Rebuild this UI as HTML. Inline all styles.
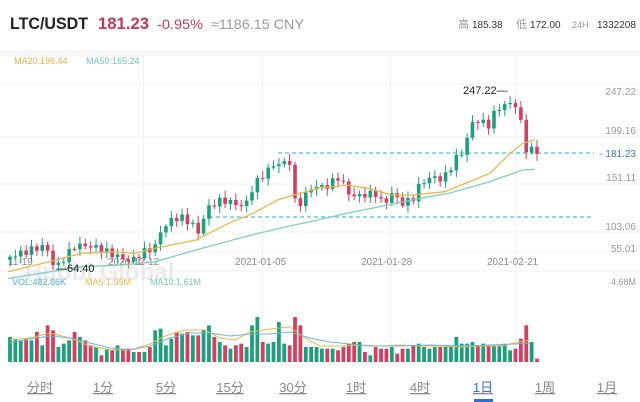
<!DOCTYPE html>
<html><head><meta charset="utf-8">
<style>
body{margin:0;width:640px;height:402px;overflow:hidden;background:#fff;font-family:"Liberation Sans","Noto Sans CJK SC",sans-serif;}
svg{position:absolute;left:0;top:0}
</style></head><body>
<svg id="s" width="640" height="402" viewBox="0 0 640 402" xmlns="http://www.w3.org/2000/svg" font-family="Liberation Sans, Noto Sans CJK SC, sans-serif">
<text x="10" y="29" font-size="17" font-weight="bold" fill="#222" textLength="78" lengthAdjust="spacingAndGlyphs">LTC/USDT</text>
<text x="98" y="29" font-size="17" font-weight="bold" fill="#c8365a" textLength="51" lengthAdjust="spacingAndGlyphs">181.23</text>
<text x="157" y="29" font-size="14" fill="#c8365a" textLength="46" lengthAdjust="spacingAndGlyphs">-0.95%</text>
<text x="211" y="29" font-size="14" fill="#9a9a9a" textLength="93" lengthAdjust="spacingAndGlyphs">≈1186.15 CNY</text>
<text x="458" y="28" font-size="11" fill="#999">高</text>
<text x="472" y="28" font-size="10" fill="#333">185.38</text>
<text x="516" y="28" font-size="11" fill="#999">低</text>
<text x="530" y="28" font-size="10" fill="#333">172.00</text>
<text x="572" y="28" font-size="9" fill="#999">24H</text>
<text x="597" y="28" font-size="10" fill="#333">1332208</text>
<rect x="0" y="50" width="640" height="6" fill="#f6f6f6"/>
<text x="14" y="64" font-size="9" fill="#e0b040">MA20:196.44</text>
<text x="86" y="64" font-size="9" fill="#6fc7b5">MA50:165.24</text>
<g stroke="#f0f0f0" stroke-width="1">
<line x1="0" y1="84" x2="640" y2="84"/><line x1="0" y1="137" x2="640" y2="137"/>
<line x1="0" y1="184" x2="640" y2="184"/><line x1="0" y1="232" x2="640" y2="232"/>
<line x1="0" y1="252" x2="640" y2="252"/><line x1="0" y1="271" x2="640" y2="271"/>
<rect x="143" y="56" width="1" height="310" fill="#f0f0f0" stroke="none"/><rect x="262" y="56" width="1" height="310" fill="#f0f0f0" stroke="none"/>
<rect x="390" y="56" width="1" height="310" fill="#f0f0f0" stroke="none"/><rect x="515" y="56" width="1" height="310" fill="#f0f0f0" stroke="none"/>
</g>
<text x="25" y="280" font-size="24" fill="#eaeaea" font-weight="bold">Huobi Global</text>
<g font-size="10" fill="#999" text-anchor="end">
<text x="636" y="95">247.22</text><text x="636" y="134">199.16</text>
<text x="636" y="181">151.11</text><text x="636" y="230">103.06</text><text x="636" y="252">55.01</text>
</g>
<g font-size="10" fill="#888">
<text x="8" y="265">11-19</text><text x="108" y="265">2020-12-12</text>
<text x="235" y="265">2021-01-05</text><text x="361" y="265">2021-01-28</text><text x="487" y="265">2021-02-21</text>
</g>
<g stroke="#4cc0dd" stroke-width="1.3" stroke-dasharray="4,3">
<line x1="278" y1="153" x2="594" y2="153"/><line x1="209" y1="217" x2="594" y2="217"/>
</g>
<text x="636" y="157" font-size="10" fill="#3a78c8" text-anchor="end">- 181.23</text>
<g id="c"></g>
<text x="463" y="94" font-size="11" fill="#222">247.22—</text>
<text x="56" y="272" font-size="11" fill="#222">—64.40</text>
<text x="12" y="285" font-size="9" fill="#4ea6d8">VOL:482.86K</text>
<text x="85" y="285" font-size="9" fill="#e8b84a">MA5:1.95M</text>
<text x="150" y="285" font-size="9" fill="#6fc7b5">MA10:1.61M</text>
<text x="636" y="285" font-size="9" fill="#999" text-anchor="end">4.68M</text>
<g font-size="13" fill="#888" text-anchor="middle" text-decoration="underline">
<text x="40" y="392">分时</text><text x="103" y="392">1分</text><text x="166" y="392">5分</text>
<text x="230" y="392">15分</text><text x="293" y="392">30分</text><text x="356" y="392">1时</text>
<text x="420" y="392">4时</text><text x="483" y="392" fill="#2f6fd0">1日</text>
<text x="545" y="392">1周</text><text x="607" y="392">1月</text>
</g>
<rect x="474" y="399" width="19" height="3" fill="#2f6fd0"/>
</svg>
<script>
(function(){
var NS="http://www.w3.org/2000/svg",g=document.getElementById('c');
function el(t,a){var e=document.createElementNS(NS,t);for(var k in a)e.setAttribute(k,String(a[k]));g.appendChild(e);return e;}
var wp=[[25,530],[100,500],[115,500],[122,545],[140,560],[185,495],[230,500],[260,515],[290,530],[320,545],[345,520],[380,500],[395,450],[420,420],[440,410],[470,430],[485,460],[500,410],[515,375],[545,360],[600,380],[620,320],[640,290],[670,255],[690,250],[712,245],[725,390],[740,360],[765,320],[800,320],[830,290],[845,320],[860,350],[890,345],[920,340],[940,375],[960,340],[985,370],[1010,360],[1030,310],[1060,290],[1085,300],[1100,270],[1120,230],[1135,215],[1155,130],[1175,120],[1195,140],[1215,90],[1235,75],[1255,70],[1270,80],[1280,160],[1290,210],[1305,210],[1315,215]].map(function(p){return [p[0]/2.45,p[1]/3+80];});
function interp(x){for(var i=0;i<wp.length-1;i++){if(x<=wp[i+1][0]){var a=wp[i],b=wp[i+1],t=(x-a[0])/(b[0]-a[0]);return a[1]+(b[1]-a[1])*Math.max(0,Math.min(1,t));}}return wp[wp.length-1][1];}
var vol=[75,70,65,70,65,90,50,110,95,45,55,65,90,75,65,50,45,20,40,35,50,40,40,30,30,30,45,95,100,50,70,90,85,90,80,80,95,110,75,60,50,40,50,55,45,110,135,60,55,60,120,55,50,135,110,45,45,45,40,40,40,35,45,55,60,60,30,20,45,40,40,45,25,40,40,50,55,45,40,45,45,45,50,75,55,55,60,50,55,50,50,50,55,35,40,70,110,60,10];
var n=vol.length,xs=10,xe=537,dx=(xe-xs)/(n-1),prev=interp(xs)+3;
for(var i=0;i<n;i++){var x=xs+i*dx,c=interp(x)+Math.sin(i*2.7)*3.5,o=prev;
 var col=(c<o)?"#1f9e7c":"#d0405f";
 var tp=Math.min(o,c)-2-Math.abs(Math.sin(i*1.3))*5,bt=Math.max(o,c)+2+Math.abs(Math.cos(i*1.7))*5;
 el('rect',{x:(x-0.5).toFixed(2),y:tp.toFixed(2),width:1,height:(bt-tp).toFixed(2),fill:col});
 el('rect',{x:(x-1.8).toFixed(2),y:Math.min(o,c).toFixed(2),width:3.6,height:Math.max(1,Math.abs(c-o)).toFixed(2),fill:col});
 var h=vol[i]/3;el('rect',{x:(x-1.9).toFixed(2),y:(362-h).toFixed(2),width:3.8,height:h.toFixed(2),fill:col});
 prev=c;}
function pl(pts,col,w){el('polyline',{points:pts.map(function(p){return (p[0]/2.45).toFixed(1)+','+(p[1]/3+80).toFixed(1);}).join(' '),fill:'none',stroke:col,'stroke-width':w});}
pl([[20,575],[120,545],[200,520],[280,515],[330,520],[380,505],[480,480],[560,430],[620,400],[680,360],[720,345],[780,325],[850,315],[900,325],[960,345],[1010,345],[1090,335],[1140,310],[1200,280],[1250,220],[1280,190],[1310,180]],'#e8b84a',1.3);
pl([[20,595],[100,580],[200,560],[300,555],[380,545],[480,510],[600,470],[700,440],[760,425],[850,400],[950,375],[1050,350],[1100,340],[1200,305],[1280,270],[1310,268]],'#7fcfbf',1.3);
function vl(pts,col){el('polyline',{points:pts.map(function(p){return p[0]+','+p[1];}).join(' '),fill:'none',stroke:col,'stroke-width':1});}
vl([[10,340],[30,338],[50,333],[70,338],[90,346],[110,350],[130,350],[150,344],[165,336],[185,330],[205,330],[220,338],[235,340],[250,332],[270,329],[290,327],[305,338],[320,346],[340,346],[360,345],[380,346],[400,345],[420,346],[440,346],[460,347],[480,346],[500,346],[515,343],[530,340]],'#e8b84a');
vl([[10,343],[30,339],[50,336],[70,338],[90,343],[110,348],[130,350],[150,346],[170,338],[190,333],[210,333],[230,336],[250,334],[270,334],[290,332],[310,338],[330,342],[350,344],[370,346],[400,346],[430,345],[460,346],[490,345],[515,344],[530,343]],'#6fb7d8');
})();
</script>
</body></html>
